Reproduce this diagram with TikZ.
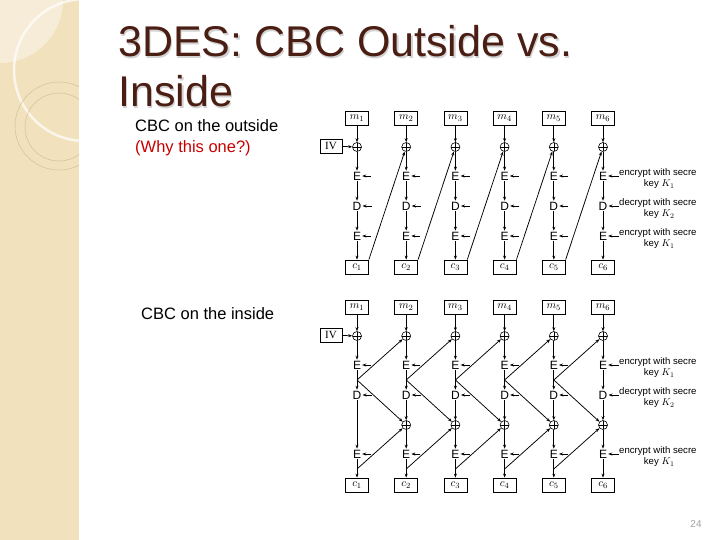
\documentclass[tikz,border=0pt]{standalone}
\usepackage{fontspec}
\setmainfont{Liberation Sans}
\newfontfamily\boxfont{Liberation Serif}
\usepackage{xcolor}
\definecolor{slideBrown}{HTML}{4B1E14}
\definecolor{slideRed}{HTML}{C80000}
\definecolor{stripBeige}{HTML}{F1E1BD}
\definecolor{stripLight}{HTML}{F6ECD8}
\definecolor{stripLine}{HTML}{D6C196}
\definecolor{pageGray}{HTML}{A3A3A3}
\usetikzlibrary{arrows.meta,calc}

\tikzset{
  flow/.style={line width=0.75pt, -{Stealth[length=4pt,width=3pt]}},
  msgbox/.style={draw, line width=0.75pt, minimum width=23pt, minimum height=14pt, inner sep=0pt, font=\fontsize{11}{11}\selectfont},
  ivbox/.style={msgbox, minimum width=22pt, font=\boxfont\fontsize{11}{11}\selectfont},
  opname/.style={inner sep=1pt, font=\fontsize{12}{12}\selectfont},
  xorsym/.style={circle, draw, line width=0.6pt, minimum size=9pt, inner sep=0pt,
    path picture={\draw[line width=0.5pt] (path picture bounding box.north) -- (path picture bounding box.south)
      (path picture bounding box.west) -- (path picture bounding box.east);}},
  keynote/.style={align=center, inner sep=0pt, font=\fontsize{9.6}{11}\selectfont},
}

\begin{document}
\begin{tikzpicture}[x=1pt, y=-1pt]
  \useasboundingbox (0,0) rectangle (720,540);
  \fill[white] (0,0) rectangle (720,540);
  % left strip
  \begin{scope}
    \clip (0,0) rectangle (79,540);
    \fill[stripBeige] (0,0) rectangle (79,540);
    \fill[stripLight] (0,0) circle (63);
    \draw[white, opacity=0.7, line width=2.5pt] (85,70) circle (71);
    \draw[stripLine, line width=0.5pt] (59,126) circle (44);
    \draw[stripLine, line width=0.5pt] (59,127) circle (34);
  \end{scope}

  % title and texts
  \node[anchor=base west, inner sep=0pt, gray!35, font=\fontsize{43}{43}\selectfont] at (119.5,58.5) {3DES: CBC Outside vs.};
  \node[anchor=base west, inner sep=0pt, gray!35, font=\fontsize{43}{43}\selectfont] at (119.5,108.5) {Inside};
  \node[anchor=base west, inner sep=0pt, slideBrown, font=\fontsize{43}{43}\selectfont] (title1) at (118,57) {3DES: CBC Outside vs.};
  \node[anchor=base west, inner sep=0pt, slideBrown, font=\fontsize{43}{43}\selectfont] (title2) at (118,107) {Inside};
  \node[anchor=base west, inner sep=0pt, font=\fontsize{16.5}{16.5}\selectfont] (outTxt) at (135,132) {CBC on the outside};
  \node[anchor=base west, inner sep=0pt, slideRed, font=\fontsize{16.5}{16.5}\selectfont] (whyTxt) at (135,153) {(Why this one?)};
  \node[anchor=base west, inner sep=0pt, font=\fontsize{16.5}{16.5}\selectfont] (inTxt) at (141,319) {CBC on the inside};
  \node[anchor=base, inner sep=0pt, pageGray, font=\fontsize{10}{10}\selectfont] (pageNo) at (696,527) {24};

  % CBC on the outside
  \node[ivbox] (IVt) at (331,146) {IV};
  \foreach \i in {1,...,6} {
    \pgfmathsetmacro\cx{357+49.2*(\i-1)}
    \node[msgbox] (Tm\i) at (\cx,118) {$m_{\i}$};
    \node[xorsym] (Tx\i) at (\cx,147) {};
    \node[opname] (Te\i) at (\cx,176) {E};
    \node[opname] (Td\i) at (\cx,206) {D};
    \node[opname] (Tf\i) at (\cx,236) {E};
    \node[msgbox] (Tc\i) at (\cx,267) {$c_{\i}$};
    \draw[flow] (Tm\i) -- (Tx\i);
    \draw[flow] (Tx\i) -- (Te\i);
    \draw[flow] (Te\i) -- (Td\i);
    \draw[flow] (Td\i) -- (Tf\i);
    \draw[flow] (Tf\i) -- (Tc\i);
  }
  \draw[flow] (IVt) -- (Tx1);
  \foreach \i in {1,...,5} {
    \draw[flow] ($(Te\i.east)+(9,0)$) -- (Te\i.east);
    \draw[flow] ($(Td\i.east)+(9,0)$) -- (Td\i.east);
    \draw[flow] ($(Tf\i.east)+(9,0)$) -- (Tf\i.east);
  }
  \foreach \i [evaluate=\i as \j using int(\i+1)] in {1,...,5}
    \draw[flow] (Tc\i.north east) -- (Tx\j);

  % CBC on the inside
  \node[ivbox] (IVb) at (331,335) {IV};
  \foreach \i in {1,...,6} {
    \pgfmathsetmacro\cx{357+49.2*(\i-1)}
    \node[msgbox] (Bm\i) at (\cx,307) {$m_{\i}$};
    \node[xorsym] (Bx\i) at (\cx,336) {};
    \node[opname] (Be\i) at (\cx,365) {E};
    \node[opname] (Bd\i) at (\cx,395) {D};
    \node[opname] (Bf\i) at (\cx,454) {E};
    \node[msgbox] (Bc\i) at (\cx,485) {$c_{\i}$};
    \coordinate (Bj\i) at (\cx,380);
    \coordinate (Bk\i) at (\cx,469);
    \draw[flow] (Bm\i) -- (Bx\i);
    \draw[flow] (Bx\i) -- (Be\i);
    \draw[flow] (Be\i) -- (Bd\i);
    \draw[flow] (Bf\i) -- (Bc\i);
  }
  \draw[flow] (IVb) -- (Bx1);
  \draw[flow] (Bd1) -- (Bf1);
  \foreach \i in {2,...,6} {
    \pgfmathsetmacro\cx{357+49.2*(\i-1)}
    \node[xorsym] (By\i) at (\cx,425) {};
    \draw[flow] (Bd\i) -- (By\i);
    \draw[flow] (By\i) -- (Bf\i);
  }
  \foreach \i in {1,...,5} {
    \draw[flow] ($(Be\i.east)+(9,0)$) -- (Be\i.east);
    \draw[flow] ($(Bd\i.east)+(9,0)$) -- (Bd\i.east);
    \draw[flow] ($(Bf\i.east)+(9,0)$) -- (Bf\i.east);
  }
  \foreach \i [evaluate=\i as \j using int(\i+1)] in {1,...,5} {
    \draw[flow] (Bj\i) -- (Bx\j);
    \draw[flow] (Bj\i) -- (By\j);
    \draw[flow] (Bk\i) -- (By\j);
  }

  % key labels
  \begin{scope}
    \clip (600,100) rectangle (695,500);
    \node[keynote, anchor=west] (keyT1) at (619,179) {encrypt with secret\\key $K_1$};
    \node[keynote, anchor=west] (keyT2) at (619,209) {decrypt with secret\\key $K_2$};
    \node[keynote, anchor=west] (keyT3) at (619,239) {encrypt with secret\\key $K_1$};
    \node[keynote, anchor=west] (keyB1) at (619,368) {encrypt with secret\\key $K_1$};
    \node[keynote, anchor=west] (keyB2) at (619,398) {decrypt with secret\\key $K_2$};
    \node[keynote, anchor=west] (keyB3) at (619,457) {encrypt with secret\\key $K_1$};
  \end{scope}
  \draw[flow] (keyT1.west |- Te6) -- (Te6.east);
  \draw[flow] (keyT2.west |- Td6) -- (Td6.east);
  \draw[flow] (keyT3.west |- Tf6) -- (Tf6.east);
  \draw[flow] (keyB1.west |- Be6) -- (Be6.east);
  \draw[flow] (keyB2.west |- Bd6) -- (Bd6.east);
  \draw[flow] (keyB3.west |- Bf6) -- (Bf6.east);
\end{tikzpicture}
\end{document}
